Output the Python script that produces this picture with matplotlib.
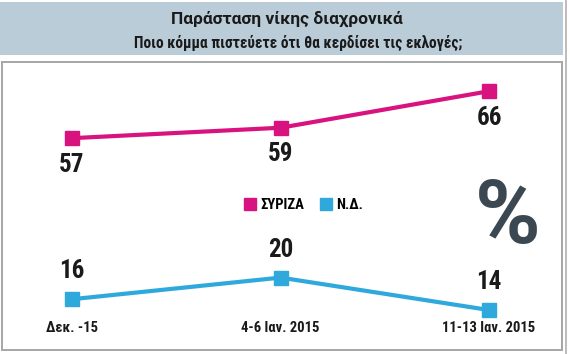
import matplotlib.pyplot as plt
from matplotlib.patches import Rectangle
from matplotlib.lines import Line2D

# data
periods = ['Δεκ. -15', '4-6 Ιαν. 2015', '11-13 Ιαν. 2015']
syriza = [57, 59, 66]
nd = [16, 20, 14]
series_names = ['ΣΥΡΙΖΑ', 'Ν.Δ.']

title = 'Παράσταση νίκης διαχρονικά'
subtitle = 'Ποιο κόμμα πιστεύετε ότι θα κερδίσει τις εκλογές;'

pink = '#d8137f'
blue = '#2fa9dc'
cond = ['Roboto Condensed', 'DejaVu Sans']
plain = ['Roboto', 'DejaVu Sans']

fig = plt.figure(figsize=(5.7, 3.54), dpi=100)
W, H = 570, 354

# header band
fig.patches.append(Rectangle((0, 1 - 55 / H), 563 / W, 53 / H, transform=fig.transFigure,
                             facecolor='#b9ccd8', edgecolor='none'))
fig.text(287 / W, 1 - 19 / H, title, ha='center', va='center', fontsize=12.5,
         fontweight='bold', family=plain, color='#1a1a1a')
fig.text(298 / W, 1 - 43 / H, subtitle, ha='center', va='center', fontsize=11.2,
         fontweight='bold', family=cond, color='#1a1a1a')
# thin vertical rule on the right edge
fig.add_artist(Line2D([566 / W, 566 / W], [0, 1], transform=fig.transFigure,
                      color='#b0b0b0', lw=1.2))

# plot box
ax = fig.add_axes([2 / W, 4 / H, 560 / W, 288 / H])
ax2 = ax.twinx()
for a in (ax, ax2):
    for s in a.spines.values():
        s.set_color('#a8a8a8')
        s.set_linewidth(1.3)
    a.set_yticks([])

x = list(range(len(periods)))
ax.set_xlim(-0.336, 2.350)
ax.set_ylim(16.4, 71.6)
ax2.set_ylim(6.6, 59.9)

ax.plot(x, syriza, color=pink, lw=3, marker='s', markersize=10, solid_capstyle='butt')
ax2.plot(x, nd, color=blue, lw=3, marker='s', markersize=10, solid_capstyle='butt')

for xi, v in zip(x, syriza):
    ax.annotate(str(v), (xi, v), xytext=(0, -19), textcoords='offset points',
                ha='center', va='center', fontsize=18, fontweight='bold',
                family=cond, color='#1a1a1a')
for xi, v in zip(x, nd):
    ax2.annotate(str(v), (xi, v), xytext=(0, 20), textcoords='offset points',
                 ha='center', va='center', fontsize=18, fontweight='bold',
                 family=cond, color='#1a1a1a')

ax.set_xticks(x)
ax.set_xticklabels(periods, fontsize=10.5, fontweight='bold', family=cond, color='#1a1a1a')
ax.tick_params(axis='x', length=0, pad=-21)

# legend with square swatches only
handles = [Line2D([], [], ls='none', marker='s', markersize=8, color=c) for c in (pink, blue)]
leg = ax.legend(handles, series_names, loc='center', bbox_to_anchor=(304 / W, 1 - 205 / H),
                bbox_transform=fig.transFigure, ncol=2, frameon=False, handlelength=0.8,
                handletextpad=0.3, columnspacing=1.1,
                prop={'family': cond, 'weight': 'bold', 'size': 10.5})

fig.text(508 / W, 1 - 219 / H, '%', ha='center', va='center', fontsize=64,
         fontweight='bold', family=plain, color='#3b4852')

fig.savefig('out.png', dpi=100)
